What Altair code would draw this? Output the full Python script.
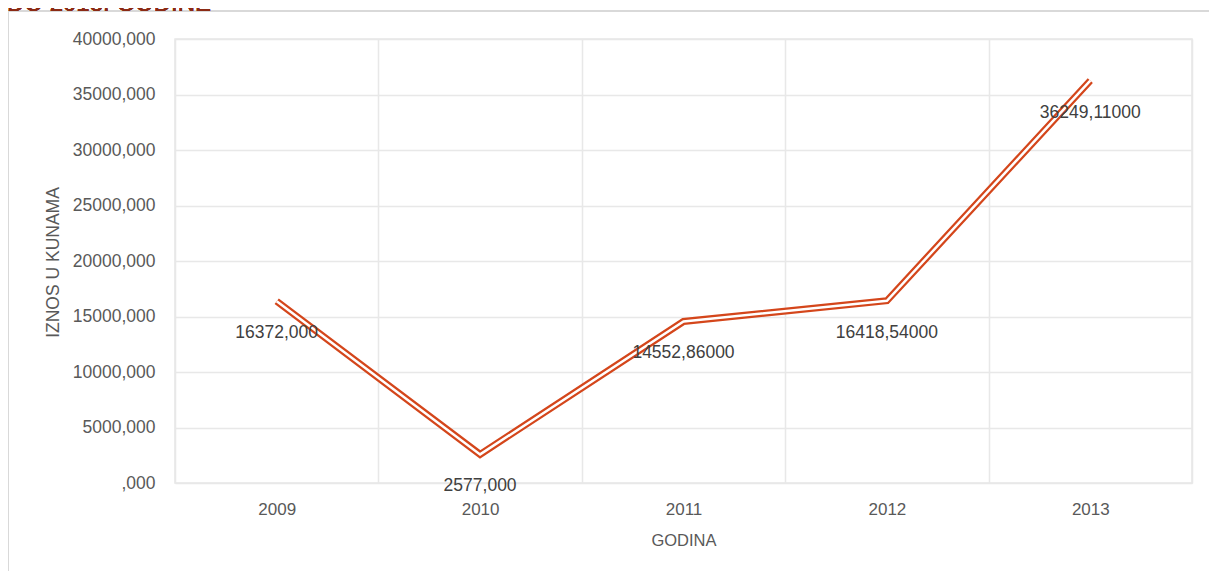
import altair as alt
import pandas as pd

years = ["2009", "2010", "2011", "2012", "2013"]
values = [16372.0, 2577.0, 14552.86, 16418.54, 36249.11]
labels = ["16372,000", "2577,000", "14552,86000", "16418,54000", "36249,11000"]
y_ticks = [0, 5000, 10000, 15000, 20000, 25000, 30000, 35000, 40000]

df = pd.DataFrame({"year": years, "value": values, "label": labels})

FONT = "Liberation Sans"
LINE = "#D4461B"
GRID = "#E8E8E8"
TXT = "#595959"

x_enc = alt.X(
    "year:O",
    scale=alt.Scale(type="band", paddingInner=0, paddingOuter=0),
    axis=alt.Axis(
        title="GODINA", grid=True, gridColor=GRID, gridWidth=1.5, tickBand="extent",
        ticks=False, domain=False, labelAngle=0, labelPadding=18, labelFontSize=17,
        labelColor=TXT, labelFont=FONT, titleFont=FONT, titleFontSize=16.5,
        titleFontWeight="normal", titleColor=TXT, titleY=57, titleBaseline="middle",
    ),
)
y_enc = alt.Y(
    "value:Q",
    scale=alt.Scale(domain=[0, 40000], nice=False),
    axis=alt.Axis(
        title="IZNOS U KUNAMA", values=y_ticks, grid=True, gridColor=GRID, gridWidth=1.5,
        ticks=False, domain=False, labelPadding=20, labelFontSize=17.5, labelColor=TXT,
        labelFont=FONT, labelExpr="datum.value == 0 ? ',000' : datum.value + ',000'",
        titleFont=FONT, titleFontSize=17.5, titleFontWeight="normal", titleColor=TXT,
        titleX=-122, titleY=223, titleAlign="center", titleBaseline="middle",
    ),
)

base = alt.Chart(df)
outer = base.mark_line(color=LINE, strokeWidth=7).encode(x=x_enc, y=y_enc)
inner = base.mark_line(color="white", strokeWidth=2.5).encode(x="year:O", y="value:Q")
text = base.mark_text(dy=32, fontSize=17.5, font=FONT, color="#404040").encode(
    x="year:O", y="value:Q", text="label:N"
)

frame_left = alt.Chart(df).mark_rule(color="#D9D9D9", strokeWidth=2).encode(
    x=alt.value(-167), y=alt.value(-28), y2=alt.value(540)
)
frame_top = alt.Chart(df).mark_rule(color="#D9D9D9", strokeWidth=2).encode(
    x=alt.value(-167), x2=alt.value(1040), y=alt.value(-28)
)
title = alt.Chart(df).mark_text(
    text="DO 2013. GODINE", align="left", baseline="alphabetic", fontSize=24,
    font=FONT, color="#8B2A14"
).encode(x=alt.value(-168), y=alt.value(-28))

chart = alt.layer(frame_left, frame_top, title, outer, inner, text).properties(
    width=1017, height=444,
    autosize=alt.AutoSizeParams(type="none"),
    padding={"left": 167, "top": 31, "right": 17, "bottom": 88},
).configure_view(stroke=GRID, strokeWidth=1.5)

chart.save("out.html", embed_options={"renderer": "svg", "actions": False})
